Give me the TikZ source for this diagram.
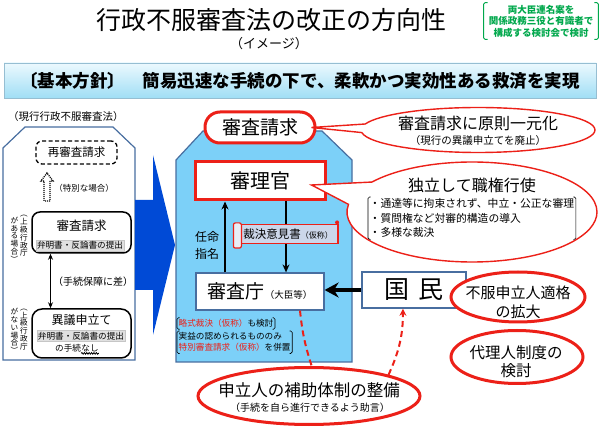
\documentclass[tikz,border=0pt]{standalone}
\usepackage{fontspec}
\setmainfont{Noto Sans CJK JP}
\usetikzlibrary{arrows.meta, positioning, shapes.geometric, shapes.callouts, decorations.pathmorphing}

\definecolor{redline}{RGB}{236,32,24}
\definecolor{framblue}{RGB}{72,110,160}
\definecolor{skyfill}{RGB}{124,208,248}
\definecolor{bigblue}{RGB}{0,74,214}
\definecolor{notegreen}{RGB}{0,168,76}
\definecolor{scrollfill}{RGB}{204,214,234}
\definecolor{tagfill}{RGB}{224,224,224}
\definecolor{bannertop}{RGB}{236,249,254}
\definecolor{bannerbot}{RGB}{160,222,245}
\definecolor{bannerline}{RGB}{150,190,210}

\newcommand{\fsz}[1]{\fontsize{#1}{#1}\selectfont}

\begin{document}
\begin{tikzpicture}[
    x=1pt, y=-1pt,
    every node/.style={inner sep=0pt},
    banner/.style={rectangle, draw=bannerline, top color=bannertop, bottom color=bannerbot, minimum width=592pt, minimum height=35pt, font=\bfseries\fsz{17.5}},
    oldbox/.style={rectangle, draw, line width=1.5pt, rounded corners=8pt, minimum width=99pt, fill=white},
    graytag/.style={rectangle, draw=gray!45, fill=tagfill, inner sep=1pt, minimum width=87pt, minimum height=11pt, font=\fsz{8.6}},
    vtext/.style={align=center, font=\fontsize{7.6}{7.8}\selectfont},
    redbox/.style={rectangle, draw=redline, line width=3pt, fill=white},
    whitebox/.style={rectangle, draw=framblue, line width=1.2pt, fill=white},
    bubble/.style={ellipse callout, draw=redline, line width=1.4pt, fill=white},
    redring/.style={ellipse, draw=redline, line width=3pt, fill=white},
    arrow/.style={-{Stealth[length=8pt, width=7pt]}, line width=1.8pt},
    bigarrow/.style={-{Stealth[length=14pt, width=15pt]}, line width=4.5pt},
    reddash/.style={redline, line width=2pt, dash pattern=on 6pt off 4pt},
    brace/.style={line width=0.6pt, rounded corners=1.5pt}
]
\path[use as bounding box, fill=white] (0,0) rectangle (600,430);

% titre
\node[font=\fsz{25}] (title) at (271,20) {行政不服審査法の改正の方向性};
\node[font=\fsz{13}] (image) at (269,44) {（イメージ）};

% note verte
\node[font=\bfseries\fontsize{9.5}{11.5}\selectfont, text=notegreen, align=center] (plan) at (541,21) {両大臣連名案を\\関係政務三役と有識者で\\構成する検討会で検討};
\draw[notegreen, brace, line width=1pt] ([xshift=-1pt, yshift=2pt]plan.north west) -- ([xshift=-5pt, yshift=2pt]plan.north west) -- ([xshift=-5pt, yshift=-2pt]plan.south west) -- ([xshift=-1pt, yshift=-2pt]plan.south west);
\draw[notegreen, brace, line width=1pt] ([xshift=1pt, yshift=2pt]plan.north east) -- ([xshift=5pt, yshift=2pt]plan.north east) -- ([xshift=5pt, yshift=-2pt]plan.south east) -- ([xshift=1pt, yshift=-2pt]plan.south east);

\node[banner] (policy) at (300,80.5) {〔基本方針〕　簡易迅速な手続の下で、柔軟かつ実効性ある救済を実現};

% GAUCHE (loi actuelle)
\node[font=\fsz{10.5}] (curlaw) at (66,117) {（現行行政不服審査法）};
\draw[framblue, line width=1.2pt, fill=white] (3,148) -- (25,127) -- (113,127) -- (135,148) -- (135,360) -- (3,360) -- cycle;

\node[rectangle, draw, dash pattern=on 4pt off 2.5pt, line width=1.3pt, rounded corners=6pt, minimum width=81pt, minimum height=23pt, font=\fsz{11.5}] (rereq) at (76.5,152.5) {再審査請求};
\coordinate (hollow) at (47,201);
\draw[line width=1.3pt, dash pattern=on 1pt off 1pt] (hollow) ++(-3,0) -- ++(0,-20) -- ++(-3,0) -- ++(6,-8) -- ++(6,8) -- ++(-3,0) -- ++(0,20) -- cycle;
\node[font=\fsz{8.5}] (special) at (84,188) {（特別な場合）};

\node[oldbox, minimum height=41pt] (oldreq) at (81.5,232.5) {};
\node[font=\fsz{12.5}] (oldreqt) at (81.5,226) {審査請求};
\node[graytag] (oldreqd) at (80,245.5) {弁明書・反論書の提出};

\node[oldbox, minimum height=49pt, rounded corners=10pt] (objection) at (81.5,333.5) {};
\node[font=\fsz{12}] (objt) at (81.5,320) {異議申立て};
\node[graytag] (objd) at (81,336) {弁明書・反論書の提出};
\node[font=\fsz{8.6}, anchor=west] (objn) at (55,348.5) {の手続};
\node[font=\fsz{8.6}, right=0pt of objn] (objnone) {なし};
\draw[decorate, decoration={snake, amplitude=0.8pt, segment length=2.4pt}, line width=0.8pt] ([yshift=-1pt]objnone.south west) -- ([yshift=-1pt]objnone.south east);

\draw[{Stealth[length=6pt, width=5pt]}-{Stealth[length=6pt, width=5pt]}, line width=1pt] ([xshift=-31pt]oldreq.south) -- ([xshift=-31pt]objection.north);
\node[font=\fsz{10}] (gap) at (93,282) {（手続保障に差）};

\node[vtext] (upa) at (24,236) {︵\\上\\級\\行\\政\\庁};
\node[vtext] (upb) at (14.5,239.5) {が\\あ\\る\\場\\合\\︶};
\node[vtext] (lowa) at (24,329.5) {︵\\上\\級\\行\\政\\庁};
\node[vtext] (lowb) at (14.5,331) {が\\な\\い\\場\\合\\︶};

% grande flèche bleue
\fill[bigblue] (135,200) -- (153,200) -- (153,155) -- (175,245) -- (153,335) -- (153,290) -- (135,290) -- cycle;

% DROITE (réforme)
\draw[framblue, line width=1.2pt, fill=skyfill] (176,160) -- (203,131) -- (322,131) -- (352,160) -- (352,362) -- (176,362) -- cycle;

\node[redbox, rounded corners=15pt, minimum width=110pt, minimum height=31pt, font=\fsz{19}] (req) at (260,127.5) {審査請求};
\node[redbox, minimum width=130pt, minimum height=38pt, font=\fsz{20}] (judge) at (260,181) {審理官};
\node[whitebox, minimum width=128pt, minimum height=37pt, font=\fsz{19}] (agency) at (260,291.5) {審査庁{\fsz{9.5}（大臣等）}};

\draw[arrow] ([xshift=-35pt]agency.north) -- ([xshift=-35pt]judge.south);
\draw[arrow] ([xshift=26pt]judge.south) -- ([xshift=26pt]agency.north);
\node[font=\fontsize{12}{17}\selectfont, align=center] (appoint) at (207,245.5) {任命\\指名};

% rouleau
\node[rectangle, draw=redline, line width=1.2pt, fill=scrollfill, minimum width=100pt, minimum height=19pt, font=\fsz{11.5}] (opinion) at (288,234) {裁決意見書{\fsz{8}（仮称）}};
\draw[redline, line width=1.2pt, fill=white!55!scrollfill, rounded corners=2pt] ([xshift=-4pt, yshift=1pt]opinion.north west) rectangle ([xshift=4pt, yshift=-4pt]opinion.south west);
\fill[redline] ([xshift=-1.5pt, yshift=1.5pt]opinion.north east) circle (2pt);

\node[font=\fsz{8.6}, anchor=west, inner sep=1.5pt] (summary) at (177,323.5) {\textcolor{redline}{略式裁決（仮称）}も検討};
\node[font=\fontsize{8.6}{11}\selectfont, align=left, anchor=north west, inner sep=1.5pt] (special2) at (177,331) {実益の認められるもののみ\\\textcolor{redline}{特別審査請求（仮称）}を併置};

% peuple
\node[whitebox, line width=1.5pt, minimum width=104pt, minimum height=36pt, font=\fsz{25}] (people) at (414,290) {国\hspace{0.4em}民};
\draw[bigarrow] (people.west) -- (people.west -| agency.east);

% bulles
\node[bubble, minimum width=234pt, minimum height=45pt, callout absolute pointer={([xshift=-5pt]req.east)}, callout pointer arc=22] (unify) at (478,130) {};
\node[font=\fsz{16}] (unifyt) at (478,123.5) {審査請求に原則一元化};
\node[font=\fsz{10.5}] (unifys) at (478,141) {（現行の異議申立てを廃止）};

\node[bubble, minimum width=250pt, minimum height=100pt, callout absolute pointer={([xshift=-15pt, yshift=-4pt]judge.east)}, callout pointer arc=28] (indep) at (472,212) {};
\node[font=\fsz{16}] (indept) at (472,185) {独立して職権行使};
\node[font=\fontsize{10.8}{14.5}\selectfont, align=left, anchor=north west, inner sep=1.5pt] (indepl) at (368,197) {・通達等に拘束されず、中立・公正な審理\\・質問権など対審的構造の導入\\・多様な裁決};

\foreach \n in {summary, special2, indepl} {
  \draw[brace] ([xshift=2.5pt]\n.north west) -- (\n.north west) -- (\n.south west) -- ([xshift=2.5pt]\n.south west);
  \draw[brace] ([xshift=-2.5pt]\n.north east) -- (\n.north east) -- (\n.south east) -- ([xshift=-2.5pt]\n.south east);
}

\node[redring, minimum width=134pt, minimum height=50pt] (standing) at (518,297) {};
\node[font=\fontsize{15}{19}\selectfont, align=center] (standingt) at (518,302) {不服申立人適格\\の拡大};
\node[redring, minimum width=132pt, minimum height=53pt] (agent) at (517,357) {};
\node[font=\fontsize{15.5}{18}\selectfont, align=center] (agentt) at (516,362) {代理人制度の\\検討};

\draw[reddash] ([xshift=40pt]agency.south) to[bend right=6] (312,367);
\node[redring, minimum width=222pt, minimum height=57pt] (aid) at (309,396) {};
\node[font=\fsz{16.5}] (aidt) at (309,390) {申立人の補助体制の整備};
\node[font=\fsz{10}] (aids) at (310,407.5) {（手続を自ら進行できるよう助言）};
\draw[reddash, -{Stealth[length=7pt, width=7pt]}] (aid.north east) to[bend right=12] ([xshift=-11pt]people.south);

\end{tikzpicture}
\end{document}
